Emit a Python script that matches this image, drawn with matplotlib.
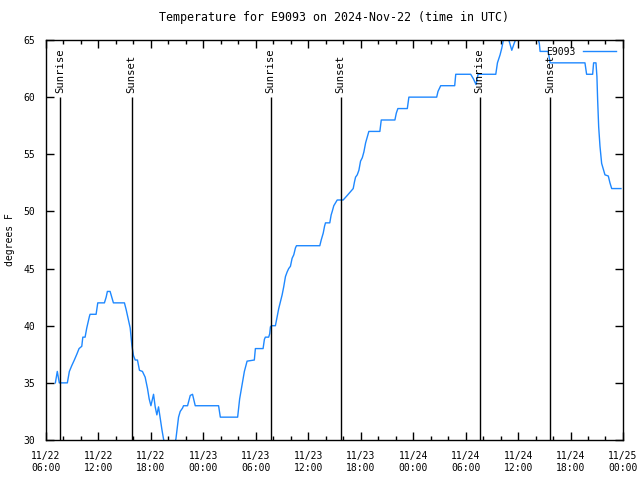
import matplotlib
matplotlib.use('Agg')
import matplotlib.pyplot as plt
import matplotlib.dates as mdates
import pandas as pd

# hours after 2024-11-22 06:00 UTC, and temperature (F)
hours = [1.07, 1.29, 1.52, 2.44, 2.67, 2.94, 3.24, 3.52, 3.78, 4.09, 4.21, 4.47,
         4.66, 4.96, 5.04, 5.73, 5.92, 6.68, 6.88, 7.02, 7.33, 7.71, 8.97, 9.17,
         9.43, 9.63, 9.82, 10.00, 10.20, 10.46, 10.69, 11.03, 11.34, 11.61, 11.80,
         12.00, 12.30, 12.49, 12.68, 12.87, 13.06, 13.26, 13.44, 13.75, 14.55,
         14.86, 15.16, 15.35, 15.62, 15.73, 16.19, 16.50, 16.76, 17.07, 19.74,
         19.94, 21.92, 22.15, 22.42, 22.69, 23.00, 23.83, 23.95, 24.83, 24.98,
         25.09, 25.47, 25.59, 25.67, 25.78, 26.24, 26.44, 26.62, 26.81, 27.01,
         27.19, 27.39, 27.58, 27.76, 27.96, 28.15, 28.34, 28.53, 28.65, 31.32,
         31.48, 31.71, 31.86, 31.97, 32.46, 32.62, 32.74, 32.92, 33.31, 33.99,
         34.46, 35.14, 35.29, 35.41, 35.60, 35.79, 35.98, 36.18, 36.36, 36.56,
         36.82, 36.93, 38.19, 38.35, 39.91, 40.07, 40.25, 41.33, 41.51, 44.69,
         44.84, 45.15, 46.75, 46.87, 48.58, 48.89, 49.19, 49.42, 51.45, 51.64,
         51.94, 52.14, 52.37, 52.83, 53.28, 53.55, 53.86, 56.15, 56.43, 56.52,
         57.44, 57.56, 57.67, 61.65, 61.84, 62.53, 62.64, 62.91, 63.02, 63.10,
         63.22, 63.37, 63.56, 63.79, 63.94, 64.32, 64.51, 64.71, 65.77]
temps = [35, 36, 35, 35, 36, 36.5, 37, 37.5, 38, 38.2, 39, 39,
         39.8, 40.8, 41, 41, 42, 42, 42.5, 43, 43, 42, 42, 41.4,
         40.5, 39.8, 38.3, 37.4, 37, 37, 36.1, 36, 35.5, 34.5, 33.6,
         33, 34, 32.9, 32.2, 32.9, 31.9, 30.9, 30.1, 29.2, 29.2,
         30.1, 32, 32.5, 32.8, 33, 33, 33.9, 34, 33, 33,
         32, 32, 33.6, 34.8, 36, 36.9, 37, 38, 38, 38.8,
         39, 39, 39.3, 39.9, 40, 40, 40.8, 41.5, 42.1, 42.7,
         43.4, 44.3, 44.7, 45, 45.2, 45.9, 46.2, 46.8, 47, 47,
         47.5, 48.1, 48.7, 49, 49, 49.7, 50, 50.5, 51, 51,
         51.4, 52, 52.6, 53, 53.2, 53.6, 54.4, 54.7, 55.2, 56,
         56.7, 57, 57, 58, 58, 58.6, 59, 59, 60, 60,
         60.5, 61, 61, 62, 62, 61.6, 61.1, 62, 62, 63,
         63.7, 64.3, 65.2, 65.3, 64.1, 64.7, 65.3, 65.5, 64.7, 64,
         64, 63.5, 63, 63, 62, 62, 63, 63, 61.8, 59.8,
         57.4, 55.7, 54.2, 53.6, 53.2, 53.1, 52.5, 52, 52]

sun_hours = [1.64, 9.80, 25.70, 33.70, 49.60, 57.65]
sun_labels = ['Sunrise', 'Sunset', 'Sunrise', 'Sunset', 'Sunrise', 'Sunset']

t0 = pd.Timestamp('2024-11-22 06:00')
times = t0 + pd.to_timedelta(hours, unit='h')
sun_times = t0 + pd.to_timedelta(sun_hours, unit='h')

plt.rcParams['font.family'] = 'DejaVu Sans Mono'
plt.rcParams['font.size'] = 7

fig = plt.figure(figsize=(6.4, 4.8), dpi=100)
ax = fig.add_axes([0.0719, 0.0833, 0.9015, 0.8334])

ax.plot(times, temps, color='#1e88ff', lw=1, label='E9093')
for st, lab in zip(sun_times, sun_labels):
    ax.vlines(st, 30, 60, color='black', lw=1)
    ax.text(st, 60.4, lab, rotation=90, ha='center', va='bottom', fontsize=7.6)

ax.set_xlim(t0, pd.Timestamp('2024-11-25 00:00'))
ax.set_ylim(30, 65)
ax.xaxis.set_major_locator(mdates.HourLocator(byhour=[0, 6, 12, 18]))
ax.xaxis.set_minor_locator(mdates.HourLocator(byhour=range(0, 24, 2)))
ax.xaxis.set_major_formatter(mdates.DateFormatter('%m/%d\n%H:%M'))
ax.set_yticks(range(30, 66, 5))
ax.tick_params(which='both', direction='in', top=True, right=True, width=1)
ax.tick_params(which='major', length=6, pad=8)
ax.tick_params(which='minor', length=3)
for s in ax.spines.values():
    s.set_linewidth(1)

ax.set_title('Temperature for E9093 on 2024-Nov-22 (time in UTC)', pad=14)
ax.set_ylabel('degrees F', labelpad=6)
# legend overlaps the last Sunset label, as in the reference
ax.legend(loc='upper right', frameon=False, markerfirst=False,
          handlelength=3.4, borderaxespad=0.3)

fig.savefig('out.png', dpi=100)
